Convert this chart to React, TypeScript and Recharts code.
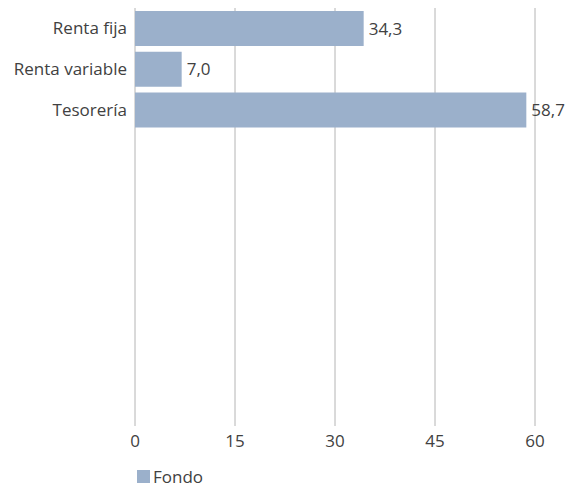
import { BarChart, Bar, XAxis, YAxis, CartesianGrid, Legend, LabelList } from 'recharts';

// Asset allocation of the fund (%)
const categories = ['Renta fija', 'Renta variable', 'Tesorería'];
const fondo = [34.3, 7.0, 58.7];
const xTicks = [0, 15, 30, 45, 60];
// the original leaves room for 10 rows, only the first 3 are used
const totalRows = 10;

const BAR_COLOR = '#9bb0cb';
const TEXT_COLOR = '#414141';
const GRID_COLOR = '#b4b4b4';
const FONT = '"Open Sans", sans-serif';

const data = Array.from({ length: totalRows }, (_, i) => ({
  key: `r${i}`,
  name: categories[i] ?? '',
  fondo: i < fondo.length ? fondo[i] : null,
}));

const formatValue = (v: any) => (typeof v === 'number' ? v.toFixed(1).replace('.', ',') : '');

function FondoLegend() {
  return (
    <div style={{ display: 'flex', alignItems: 'center', fontFamily: FONT, fontSize: 17, color: TEXT_COLOR }}>
      <span style={{ display: 'inline-block', width: 13, height: 13, background: BAR_COLOR, marginRight: 3 }} />
      <span>Fondo</span>
    </div>
  );
}

export default function App() {
  return (
    <div style={{ position: 'absolute', left: 0, top: 0, width: 568, height: 488, background: '#fff' }}>
      <BarChart
        width={568}
        height={488}
        data={data}
        layout="vertical"
        margin={{ top: 8, right: 33, left: 0, bottom: 20 }}
        barSize={35}
      >
        <CartesianGrid horizontal={false} stroke={GRID_COLOR} />
        <XAxis
          type="number"
          domain={[0, 60]}
          ticks={xTicks}
          axisLine={false}
          tickLine={{ stroke: GRID_COLOR }}
          tickSize={11}
          tickMargin={9}
          height={30}
          tick={{ fill: TEXT_COLOR, fontSize: 17, fontFamily: FONT }}
        />
        <YAxis
          type="category"
          dataKey="key"
          width={135}
          axisLine={false}
          tickLine={false}
          tickFormatter={(_v: any, i: number) => data[i]?.name ?? ''}
          tick={{ fill: TEXT_COLOR, fontSize: 17, fontFamily: FONT }}
          interval={0}
        />
        <Legend
          verticalAlign="bottom"
          align="left"
          content={<FondoLegend />}
          wrapperStyle={{ left: 137, bottom: 0, width: 100 }}
        />
        <Bar dataKey="fondo" name="Fondo" fill={BAR_COLOR} isAnimationActive={false}>
          <LabelList
            dataKey="fondo"
            position="right"
            offset={5}
            formatter={formatValue}
            style={{ fill: TEXT_COLOR, fontSize: 17, fontFamily: FONT }}
          />
        </Bar>
      </BarChart>
    </div>
  );
}
